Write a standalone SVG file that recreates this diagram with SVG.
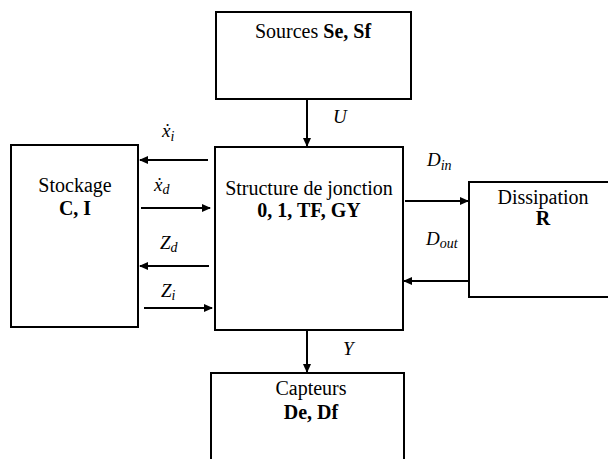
<svg xmlns="http://www.w3.org/2000/svg" width="608" height="459" viewBox="0 0 608 459">
<style>
.box{fill:#fff;stroke:#000;stroke-width:2}
.t{font-size:20px;fill:#000;text-anchor:middle}
.b{font-weight:bold}
.m{font-size:19px;font-style:italic;fill:#000}
.s{font-size:14px}
.c{stroke:#000;stroke-width:2;fill:none;marker-end:url(#ah)}
</style>
<defs>
<marker id="ah" markerWidth="9" markerHeight="8" refX="8" refY="4" orient="auto" markerUnits="userSpaceOnUse">
<path d="M0,0 L9,4 L0,8 Z" fill="#000"/>
</marker>
</defs>
<rect width="608" height="459" fill="#fff"/>
<g font-family="Liberation Serif, Times New Roman, serif">
<g id="sources">
<rect class="box" x="216" y="12" width="195" height="87"/>
<text class="t" x="313" y="38">Sources <tspan class="b">Se, Sf</tspan></text>
</g>
<g id="jonction">
<rect class="box" x="215" y="147" width="188" height="183"/>
<text class="t" x="309" y="195">Structure de jonction</text>
<text class="t b" x="309" y="217">0, 1, TF, GY</text>
</g>
<g id="stockage">
<rect class="box" x="11" y="145" width="127" height="182"/>
<text class="t" x="75" y="192">Stockage</text>
<text class="t b" x="75" y="215">C, I</text>
</g>
<g id="dissipation">
<rect class="box" x="469" y="182" width="140" height="115"/>
<text class="t" x="543" y="204">Dissipation</text>
<text class="t b" x="543" y="225">R</text>
</g>
<g id="capteurs">
<rect class="box" x="211" y="373" width="193" height="100"/>
<text class="t" x="311" y="395">Capteurs</text>
<text class="t b" x="311" y="419">De, Df</text>
</g>
<g id="connectors">
<line class="c" x1="307" y1="99" x2="307" y2="146"/>
<line class="c" x1="307" y1="330" x2="307" y2="372"/>
<line class="c" x1="208" y1="160" x2="140" y2="160"/>
<line class="c" x1="141" y1="208" x2="210" y2="208"/>
<line class="c" x1="209" y1="266" x2="140" y2="266"/>
<line class="c" x1="144" y1="308" x2="212" y2="308"/>
<line class="c" x1="405" y1="201" x2="468" y2="201"/>
<line class="c" x1="469" y1="281" x2="404" y2="281"/>
</g>
<g id="labels">
<text class="m" x="333" y="123">U</text>
<text class="m" x="343" y="355">Y</text>
<text class="m" x="162" y="137">ẋ<tspan class="s" dy="4">i</tspan></text>
<text class="m" x="154" y="191">ẋ<tspan class="s" dy="3">d</tspan></text>
<text class="m" x="160" y="249">Z<tspan class="s" dy="3">d</tspan></text>
<text class="m" x="161" y="297">Z<tspan class="s" dy="3">i</tspan></text>
<text class="m" x="427" y="166">D<tspan class="s" dy="4">in</tspan></text>
<text class="m" x="426" y="245">D<tspan class="s" dy="3">out</tspan></text>
</g>
</g>
</svg>
